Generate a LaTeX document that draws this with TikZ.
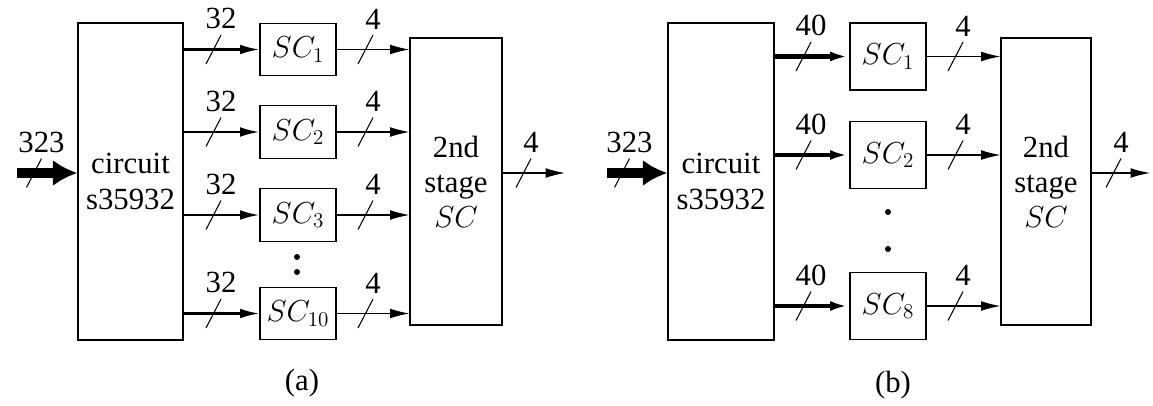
\documentclass[tikz,border=0pt]{standalone}
\usepackage[no-math]{fontspec}
\setmainfont{Liberation Serif}
\usetikzlibrary{positioning, calc, arrows.meta}
\tikzset{
    block/.style={draw, line width=0.6pt, inner sep=2pt, align=center},
    scbox/.style={block, minimum width=1.52cm, minimum height=1.05cm},
    busin/.style={-{Latex[length=14pt, width=15pt]}, line width=5.2pt},
    busthick/.style={-{Latex[length=11pt, width=5.5pt]}, line width=1.3pt},
    busheavy/.style={-{Latex[length=11pt, width=5.5pt]}, line width=2.4pt},
    busthin/.style={-{Latex[length=11pt, width=5.5pt]}, line width=0.6pt},
    cut/.style={line width=0.6pt},
    cutlabel/.style={above=3pt, inner sep=0pt},
}

\begin{document}
\begin{tikzpicture}[font=\fontsize{17.5}{20}\selectfont]
    \useasboundingbox (0,0) rectangle (23.06,8.1);

    % (a) 10 compattatori
    \node[block, minimum width=2.1cm, minimum height=6.34cm] (circa) at (2.61,4.47) {circuit\\s35932};
    \node[scbox] (sca1) at (5.96,7.11) {$SC_1$};
    \node[scbox] (sca2) at (5.96,5.46) {$SC_2$};
    \node[scbox] (sca3) at (5.96,3.80) {$SC_3$};
    \node[scbox] (sca10) at (5.96,1.83) {$SC_{10}$};
    \node[block, minimum width=1.84cm, minimum height=5.74cm] (stagea) at (9.12,4.47) {2nd\\stage\\$SC$};
    \coordinate (ina) at (0.34,4.64);
    \coordinate (outa) at (11.3,4.64);

    % Ingresso e uscita
    \draw[busin] (ina) -- (circa.west |- ina);
    \draw[cut] ($(ina)+(0.19,-0.29)$) -- ++(0.3,0.58) node[cutlabel] {323};
    \draw[busthin] (stagea.east |- outa) -- (outa);
    \draw[cut] ($(stagea.east |- outa)+(0.27,-0.29)$) -- ++(0.3,0.58) node[cutlabel] {4};

    % Bus verso e da ogni SC
    \foreach \i in {1,2,3,10} {
        \draw[busthick] (circa.east |- sca\i) -- (sca\i.west);
        \draw[cut] ($(circa.east |- sca\i)+(0.45,-0.29)$) -- ++(0.3,0.58) node[cutlabel] {32};
        \draw[busthin] (sca\i.east) -- (stagea.west |- sca\i.east);
        \draw[cut] ($(sca\i.east)+(0.43,-0.29)$) -- ++(0.3,0.58) node[cutlabel] {4};
    }

    \fill (5.94,2.96) circle (0.06);
    \fill (5.94,2.66) circle (0.06);
    \node (capa) at (6.04,0.44) {(a)};

    % (b) 8 compattatori
    \node[block, minimum width=2.12cm, minimum height=6.34cm] (circb) at (14.42,4.47) {circuit\\s35932};
    \node[scbox, minimum height=1.34cm] (scb1) at (17.76,6.97) {$SC_1$};
    \node[scbox, minimum height=1.34cm] (scb2) at (17.76,5.0) {$SC_2$};
    \node[scbox, minimum height=1.34cm] (scb8) at (17.76,1.98) {$SC_8$};
    \node[block, minimum width=1.8cm, minimum height=5.74cm] (stageb) at (20.92,4.47) {2nd\\stage\\$SC$};
    \coordinate (inb) at (12.14,4.64);
    \coordinate (outb) at (23.0,4.64);

    % Ingresso e uscita
    \draw[busin] (inb) -- (circb.west |- inb);
    \draw[cut] ($(inb)+(0.15,-0.29)$) -- ++(0.3,0.58) node[cutlabel] {323};
    \draw[busthin] (stageb.east |- outb) -- (outb);
    \draw[cut] ($(stageb.east |- outb)+(0.29,-0.29)$) -- ++(0.3,0.58) node[cutlabel] {4};

    % Bus verso e da ogni SC
    \foreach \i in {1,2,8} {
        \draw[busheavy] (circb.east |- scb\i) -- (scb\i.west);
        \draw[cut] ($(circb.east |- scb\i)+(0.43,-0.29)$) -- ++(0.3,0.58) node[cutlabel] {40};
        \draw[busthin] (scb\i.east) -- (stageb.west |- scb\i.east);
        \draw[cut] ($(scb\i.east)+(0.43,-0.29)$) -- ++(0.3,0.58) node[cutlabel] {4};
    }

    \fill (17.76,3.86) circle (0.06);
    \fill (17.76,3.12) circle (0.06);
    \node (capb) at (17.86,0.40) {(b)};
\end{tikzpicture}
\end{document}
